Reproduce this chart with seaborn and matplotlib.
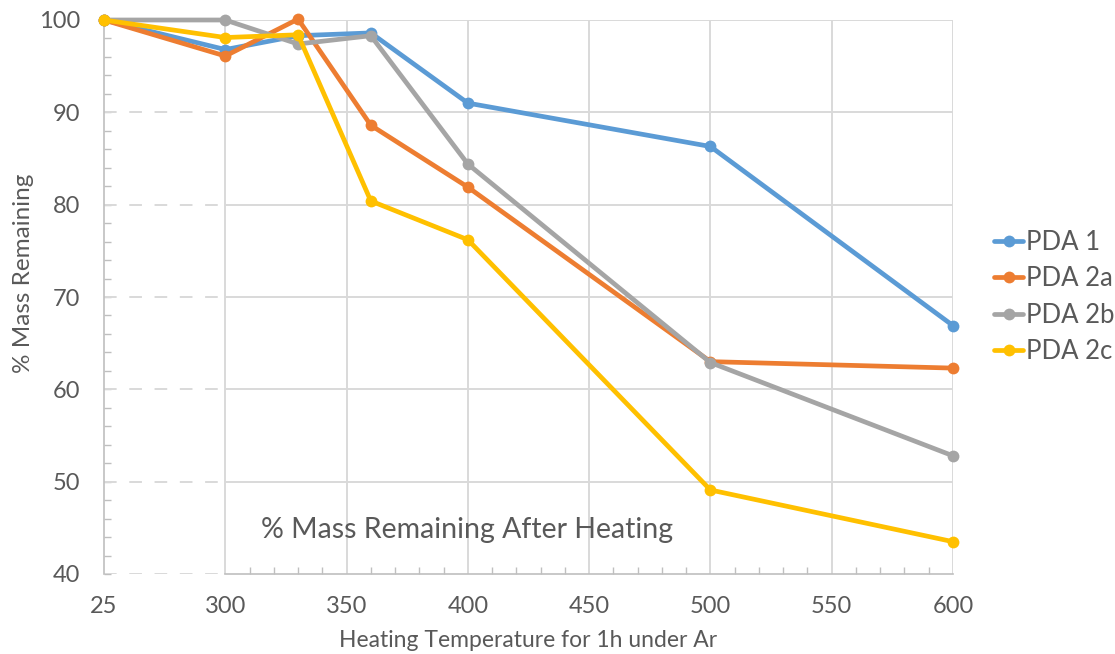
import numpy as np
import pandas as pd
import matplotlib
matplotlib.use("Agg")
import matplotlib.pyplot as plt
import seaborn as sns
from matplotlib.ticker import FixedLocator, MultipleLocator

# ---- data ----
temperatures = [25, 300, 330, 360, 400, 500, 600]
pda1 = [100.0, 96.8, 98.3, 98.6, 91.0, 86.3, 66.9]
pda2a = [100.0, 96.1, 100.1, 88.6, 81.9, 63.0, 62.3]
pda2b = [100.0, 100.0, 97.4, 98.3, 84.4, 62.9, 52.8]
pda2c = [100.0, 98.1, 98.4, 80.4, 76.2, 49.1, 43.5]
series_names = ["PDA 1", "PDA 2a", "PDA 2b", "PDA 2c"]
colors = ["#5B9BD5", "#ED7D31", "#A5A5A5", "#FFC000"]
x_ticks = [25, 300, 350, 400, 450, 500, 550, 600]
x_tick_labels = ["25", "300", "350", "400", "450", "500", "550", "600"]
y_ticks = [40, 50, 60, 70, 80, 90, 100]

df = pd.DataFrame({
    "Temperature": temperatures * 4,
    "Mass": pda1 + pda2a + pda2b + pda2c,
    "Series": sum([[n] * len(temperatures) for n in series_names], []),
})

sns.set_style("white")
plt.rcParams["font.family"] = ["Lato", "DejaVu Sans"]

fig = plt.figure(figsize=(11.15, 6.54), dpi=100)
ax = fig.add_axes([104 / 1115, 80 / 654, 849 / 1115, 554 / 654])

# broken axis: 25 -> sits where 250 would be
def fwd(x):
    x = np.asarray(x, dtype=float)
    return np.where(x < 300, 250 + (x - 25) * 50 / 275, x)

def inv(x):
    x = np.asarray(x, dtype=float)
    return np.where(x < 300, 25 + (x - 250) * 275 / 50, x)

grid_c = "#D9D9D9"
axis_c = "#BFBFBF"
text_c = "#595959"

sns.lineplot(data=df, x="Temperature", y="Mass", hue="Series",
             palette=dict(zip(series_names, colors)), marker="o",
             markersize=8.5, markeredgewidth=0, linewidth=3.4,
             ax=ax, zorder=5, legend=True)
for ln in ax.lines:
    ln.set_clip_on(False)

ax.set_xscale("function", functions=(fwd, inv))
ax.set_xlim(25, 600)
ax.set_ylim(40, 100)

# gridlines
ax.hlines(y_ticks[1:], 300, 600, color=grid_c, lw=1.4, zorder=1)
ax.hlines(y_ticks, 25, 300, color=grid_c, lw=1.4, linestyles=(0, (6.5, 6.5)), zorder=1)
ax.vlines(x_ticks[1:], 40, 100, color=grid_c, lw=1.4, zorder=1)

ax.xaxis.set_major_locator(FixedLocator(x_ticks))
ax.set_xticklabels(x_tick_labels)
ax.xaxis.set_minor_locator(FixedLocator(list(range(300, 601, 10))))
ax.yaxis.set_major_locator(FixedLocator(y_ticks))
ax.yaxis.set_minor_locator(MultipleLocator(2))

ax.tick_params(axis="x", which="major", length=0, pad=16, labelsize=17, labelcolor=text_c)
ax.tick_params(axis="x", which="minor", direction="in", length=5, width=1, color=axis_c, bottom=True)
ax.tick_params(axis="y", which="both", direction="in", length=5, width=1, color=axis_c,
               left=True, pad=17, labelsize=17, labelcolor=text_c)

for s in ["top", "right"]:
    ax.spines[s].set_visible(False)
ax.spines["left"].set_color(axis_c)
ax.spines["left"].set_linewidth(1.2)
ax.spines["bottom"].set_color(axis_c)
ax.spines["bottom"].set_linewidth(1.2)
ax.spines["bottom"].set_bounds(300, 600)

ax.set_xlabel("Heating Temperature for 1h under Ar", fontsize=16.5, color=text_c, labelpad=9)
ax.set_ylabel("% Mass Remaining", fontsize=17.5, color=text_c)
ax.yaxis.set_label_coords(-0.083, 0.543)

ax.text(0.4276, 0.079, "% Mass Remaining After Heating", transform=ax.transAxes,
        ha="center", va="center", fontsize=20.5, color=text_c, zorder=6)

leg = ax.legend(loc="center left", bbox_to_anchor=(1.048, 0.50), frameon=False,
                fontsize=18.5, handlelength=1.15, handletextpad=0.1, labelspacing=0.45,
                borderaxespad=0, borderpad=0, labelcolor=text_c)
for h in leg.legend_handles:
    h.set_linewidth(3.4)
    h.set_markersize(8.5)

fig.savefig("out.png", dpi=100, facecolor="white")
